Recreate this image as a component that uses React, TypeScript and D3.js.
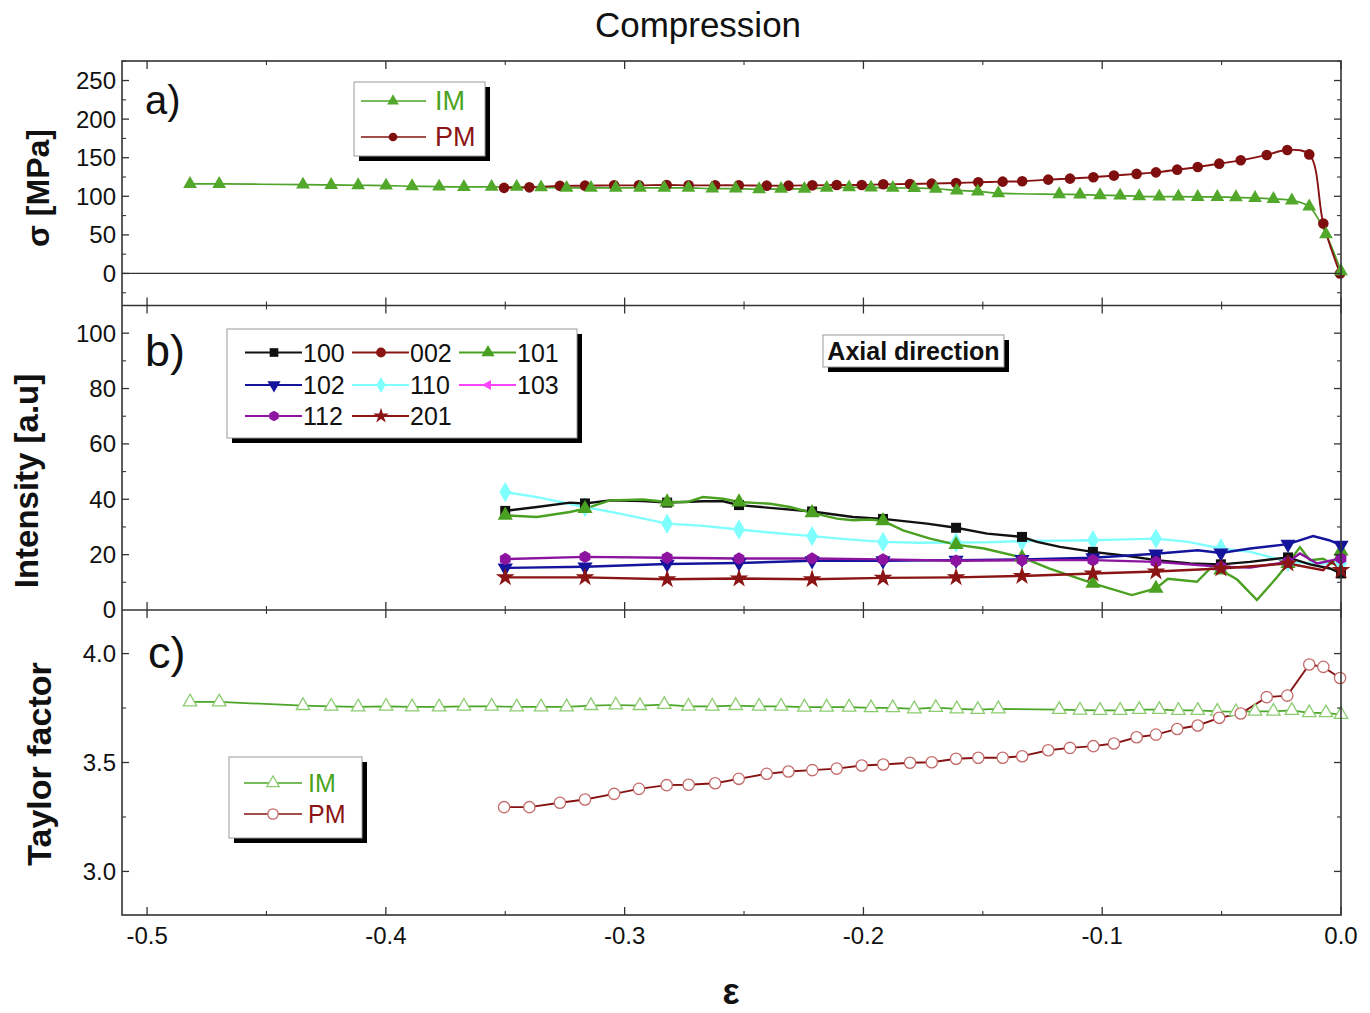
import React from 'react';
import * as d3 from 'd3';

const W = 1370, H = 1013;
const L = 122, R = 1341, T = 61, AB = 305.5, BC = 610, B = 915;
const FONT = '"Liberation Sans", Arial, sans-serif';

const xTicks = [-0.5, -0.4, -0.3, -0.2, -0.1, 0.0];
const xTickLabels = ['-0.5', '-0.4', '-0.3', '-0.2', '-0.1', '0.0'];
const xMinor = [-0.45, -0.35, -0.25, -0.15, -0.05];
const aTicks = [0, 50, 100, 150, 200, 250];
const aMinor = [-25, 25, 75, 125, 175, 225, 275];
const bTicks = [0, 20, 40, 60, 80, 100];
const bMinor = [10, 30, 50, 70, 90];
const cTicks = [3.0, 3.5, 4.0];
const cTickLabels = ['3.0', '3.5', '4.0'];
const cMinor = [2.75, 3.25, 3.75];

const imStrain = [-0.482, -0.4698, -0.4347, -0.4229, -0.4116, -0.3999, -0.389, -0.3777, -0.3673, -0.3557, -0.3452, -0.335, -0.3243, -0.3141, -0.3037, -0.2936, -0.2834, -0.2733, -0.2633, -0.2535, -0.2437, -0.2345, -0.2247, -0.2154, -0.206, -0.1968, -0.1877, -0.1787, -0.1697, -0.1609, -0.1521, -0.1435, -0.118, -0.1093, -0.1009, -0.0925, -0.0845, -0.0761, -0.0681, -0.06, -0.0518, -0.044, -0.036, -0.0283, -0.0206, -0.0133, -0.0063, 0];
const imStress = [116.0, 116.0, 115.1, 114.7, 114.3, 113.8, 113.0, 112.5, 112.1, 112.2, 112.2, 111.6, 110.9, 110.9, 110.9, 110.9, 110.9, 110.9, 110.0, 110.0, 109.1, 109.6, 109.6, 110.9, 111.6, 111.2, 110.9, 110.6, 109.8, 107.6, 106.3, 104.0, 102.6, 102.2, 101.3, 100.9, 100.0, 99.6, 99.6, 99.2, 99.2, 98.7, 97.9, 96.6, 94.5, 86.7, 50.8, 3.0];
const imTaylor = [3.778, 3.778, 3.761, 3.758, 3.755, 3.758, 3.755, 3.755, 3.758, 3.758, 3.755, 3.755, 3.755, 3.761, 3.764, 3.761, 3.766, 3.758, 3.758, 3.761, 3.758, 3.758, 3.754, 3.754, 3.754, 3.751, 3.751, 3.746, 3.752, 3.746, 3.743, 3.746, 3.743, 3.740, 3.739, 3.739, 3.743, 3.743, 3.739, 3.739, 3.735, 3.733, 3.735, 3.735, 3.739, 3.728, 3.728, 3.720];

const pmStrain = [-0.3505, -0.3399, -0.3271, -0.3166, -0.3044, -0.294, -0.2824, -0.2732, -0.2621, -0.2522, -0.2405, -0.2314, -0.2214, -0.2112, -0.2007, -0.1917, -0.1805, -0.1714, -0.1612, -0.1519, -0.1417, -0.1335, -0.1226, -0.1135, -0.1037, -0.0951, -0.0856, -0.0775, -0.0686, -0.06, -0.051, -0.042, -0.0311, -0.0225, -0.0133, -0.0074, -0.0004];
const pmStress = [110.9, 111.6, 113.5, 113.8, 114.2, 114.2, 114.7, 114.2, 114.2, 114.2, 113.8, 113.8, 114.2, 114.7, 114.7, 115.5, 116.0, 116.4, 117.3, 118.1, 119.0, 119.4, 121.6, 122.9, 124.6, 126.8, 129.0, 131.0, 134.5, 138.0, 142.3, 146.6, 153.6, 160.0, 154.3, 64.7, 0];
const pmTaylor = [3.295, 3.295, 3.315, 3.330, 3.356, 3.379, 3.396, 3.398, 3.405, 3.425, 3.448, 3.459, 3.465, 3.472, 3.486, 3.491, 3.499, 3.501, 3.517, 3.522, 3.522, 3.529, 3.556, 3.567, 3.575, 3.587, 3.616, 3.628, 3.654, 3.670, 3.705, 3.725, 3.800, 3.807, 3.950, 3.939, 3.888];

const bMarkerStrain = [-0.35, -0.3166, -0.2822, -0.2521, -0.2215, -0.1918, -0.1612, -0.1336, -0.1039, -0.0775, -0.0503, -0.0222, 0];

const i100 = [[-0.35, 35.8], [-0.3367, 37.2], [-0.3229, 38.8], [-0.3166, 38.5], [-0.3061, 39.6], [-0.2923, 39.4], [-0.2822, 38.8], [-0.2672, 39.3], [-0.2588, 39.3], [-0.2521, 37.9], [-0.2391, 36.9], [-0.2215, 35.6], [-0.2044, 33.6], [-0.1918, 32.9], [-0.1734, 31.2], [-0.1612, 29.7], [-0.1482, 27.6], [-0.1336, 26.4], [-0.1273, 24.6], [-0.1177, 22.8], [-0.1039, 21.0], [-0.0884, 19.4], [-0.0775, 18.0], [-0.0632, 16.8], [-0.0503, 16.5], [-0.0381, 17.4], [-0.0222, 19.0], [-0.013, 16.5], [-0.0046, 15.0], [0, 13.2]];
const i002: number[][] = [];
const i101 = [[-0.35, 34.2], [-0.3367, 33.6], [-0.3229, 35.4], [-0.3166, 36.6], [-0.3061, 39.6], [-0.2923, 39.9], [-0.2822, 39.0], [-0.2739, 39.0], [-0.2672, 40.8], [-0.2588, 40.2], [-0.2521, 39.0], [-0.2391, 38.4], [-0.2307, 37.2], [-0.2215, 35.1], [-0.2111, 33.0], [-0.2044, 32.4], [-0.1973, 32.7], [-0.1918, 32.2], [-0.1834, 28.8], [-0.1721, 25.8], [-0.1612, 23.6], [-0.1495, 22.2], [-0.1336, 19.0], [-0.1223, 15.0], [-0.1039, 9.6], [-0.0876, 5.4], [-0.0775, 7.8], [-0.0725, 11.3], [-0.0603, 10.2], [-0.0548, 15.0], [-0.0503, 14.4], [-0.0435, 11.0], [-0.0352, 3.6], [-0.0268, 11.8], [-0.0222, 16.8], [-0.0172, 22.7], [-0.013, 18.0], [-0.0075, 18.5], [-0.0038, 16.8], [0, 21.3]];
const i102 = [[-0.35, 15.2], [-0.3166, 15.6], [-0.2822, 16.6], [-0.2521, 17.0], [-0.2215, 17.8], [-0.1918, 17.8], [-0.1612, 18.0], [-0.1336, 18.3], [-0.1039, 18.9], [-0.0775, 20.3], [-0.06, 21.6], [-0.0503, 20.6], [-0.038, 22.2], [-0.0222, 23.8], [-0.0117, 26.7], [-0.005, 25.2], [0, 23.4]];
const i110 = [[-0.35, 42.6], [-0.3367, 40.8], [-0.3166, 37.2], [-0.302, 34.8], [-0.2822, 31.2], [-0.2672, 30.4], [-0.2521, 29.1], [-0.237, 27.8], [-0.2215, 26.7], [-0.2064, 25.5], [-0.1918, 24.6], [-0.1772, 24.3], [-0.1612, 24.4], [-0.148, 24.5], [-0.1336, 24.9], [-0.119, 25.0], [-0.1039, 25.2], [-0.09, 25.5], [-0.0775, 25.8], [-0.064, 24.6], [-0.0503, 22.2], [-0.038, 21.0], [-0.0222, 17.4], [-0.01, 16.8], [0, 16.8]];
const i103: number[][] = [];
const i112 = [[-0.35, 18.4], [-0.3166, 19.2], [-0.2822, 18.9], [-0.2521, 18.6], [-0.2215, 18.6], [-0.1918, 18.3], [-0.1612, 17.8], [-0.1336, 18.0], [-0.1039, 18.0], [-0.0775, 17.4], [-0.0503, 15.6], [-0.038, 15.3], [-0.0222, 17.4], [-0.0172, 20.4], [-0.01, 16.8], [-0.0034, 18.0], [0, 18.6]];
const i201 = [[-0.35, 11.8], [-0.3166, 11.8], [-0.2822, 11.1], [-0.2521, 11.4], [-0.2215, 11.1], [-0.1918, 11.6], [-0.1612, 11.8], [-0.1336, 12.3], [-0.1039, 13.2], [-0.0775, 13.9], [-0.0503, 15.0], [-0.0222, 16.8], [-0.0075, 14.4], [-0.0038, 17.4], [0, 14.4]];

const bSeries = [
  { name: '100', data: i100, color: '#111111', marker: 'square' },
  { name: '002', data: i002, color: '#8b1414', marker: 'circle' },
  { name: '101', data: i101, color: '#4aa020', marker: 'triUp' },
  { name: '102', data: i102, color: '#14149c', marker: 'triDown' },
  { name: '110', data: i110, color: '#80ffff', marker: 'diamond' },
  { name: '103', data: i103, color: '#ff44ff', marker: 'triLeft' },
  { name: '112', data: i112, color: '#8c14a0', marker: 'hexagon' },
  { name: '201', data: i201, color: '#8b1414', marker: 'star' },
];
const bDrawOrder = ['110', '100', '101', '102', '112', '201'];

const x = d3.scaleLinear().domain([-0.5105, 0]).range([L, R]);
const ya = d3.scaleLinear().domain([-41.5, 275.3]).range([AB, T]);
const yb = d3.scaleLinear().domain([0, 110]).range([BC, AB]);
const yc = d3.scaleLinear().domain([2.8, 4.2]).range([B, BC]);

function markerPath(type: string, size: number): { d: string; rot: number } {
  switch (type) {
    case 'square': return { d: d3.symbol(d3.symbolSquare, size)() as string, rot: 0 };
    case 'circle': return { d: d3.symbol(d3.symbolCircle, size)() as string, rot: 0 };
    case 'triUp': return { d: d3.symbol(d3.symbolTriangle, size)() as string, rot: 0 };
    case 'triDown': return { d: d3.symbol(d3.symbolTriangle, size)() as string, rot: 180 };
    case 'triLeft': return { d: d3.symbol(d3.symbolTriangle, size)() as string, rot: -90 };
    case 'diamond': return { d: d3.symbol(d3.symbolDiamond, size)() as string, rot: 0 };
    case 'star': return { d: d3.symbol(d3.symbolStar, size)() as string, rot: 0 };
    case 'hexagon': {
      const r = Math.sqrt(size / 2.598);
      const pts = d3.range(6).map(i => {
        const a = Math.PI / 6 + (i * Math.PI) / 3;
        return [r * Math.cos(a), r * Math.sin(a)];
      });
      return { d: 'M' + pts.map(p => p.join(',')).join('L') + 'Z', rot: 0 };
    }
  }
  return { d: '', rot: 0 };
}

function Mk({ type, cx, cy, size, fill, stroke, sw = 0 }: any) {
  const { d, rot } = markerPath(type, size);
  return <path d={d} transform={`translate(${cx},${cy}) rotate(${rot})`} fill={fill} stroke={stroke || 'none'} strokeWidth={sw} />;
}

function Frame() {
  const els: any[] = [];
  const edges = [
    { y: T, dirs: [1] },
    { y: AB, dirs: [-1, 1] },
    { y: BC, dirs: [-1, 1] },
    { y: B, dirs: [-1] },
  ];
  edges.forEach((e, ei) => {
    e.dirs.forEach((dir, di) => {
      xTicks.forEach((t, i) => els.push(<line key={`xm${ei}${di}${i}`} x1={x(t)} x2={x(t)} y1={e.y} y2={e.y + dir * 8} stroke="#333" strokeWidth={1.3} />));
      xMinor.forEach((t, i) => els.push(<line key={`xn${ei}${di}${i}`} x1={x(t)} x2={x(t)} y1={e.y} y2={e.y + dir * 4} stroke="#333" strokeWidth={1.1} />));
    });
  });
  const yAxes = [
    { s: ya, maj: aTicks, min: aMinor },
    { s: yb, maj: bTicks, min: bMinor },
    { s: yc, maj: cTicks, min: cMinor },
  ];
  yAxes.forEach((ax, ai) => {
    const [d0, d1] = ax.s.domain();
    const inside = (v: number) => v > Math.min(d0, d1) + 1e-9 && v < Math.max(d0, d1) - 1e-9;
    [[L, 1], [R, -1]].forEach(([xx, dir], si) => {
      ax.maj.filter(inside).forEach((t, i) => els.push(<line key={`ym${ai}${si}${i}`} x1={xx} x2={xx + dir * 7} y1={ax.s(t)} y2={ax.s(t)} stroke="#333" strokeWidth={1.3} />));
      ax.min.filter(inside).forEach((t, i) => els.push(<line key={`yn${ai}${si}${i}`} x1={xx} x2={xx + dir * 4} y1={ax.s(t)} y2={ax.s(t)} stroke="#333" strokeWidth={1.1} />));
    });
  });
  return (
    <g>
      <rect x={L} y={T} width={R - L} height={B - T} fill="none" stroke="#333" strokeWidth={1.6} />
      <line x1={L} x2={R} y1={AB} y2={AB} stroke="#333" strokeWidth={1.6} />
      <line x1={L} x2={R} y1={BC} y2={BC} stroke="#333" strokeWidth={1.6} />
      {els}
    </g>
  );
}

function LegendBox({ x0, y0, w, h }: any) {
  return (
    <g>
      <rect x={x0 + 5} y={y0 + 5} width={w} height={h} fill="#000" />
      <rect x={x0} y={y0} width={w} height={h} fill="#fff" stroke="#9a9a9a" strokeWidth={1} />
    </g>
  );
}

export default function App() {
  const lineA = d3.line<number>().x((_, i) => x(imStrain[i])).y(d => ya(d)).curve(d3.curveCatmullRom.alpha(0.5));
  const lineAPM = d3.line<number>().x((_, i) => x(pmStrain[i])).y(d => ya(d)).curve(d3.curveCatmullRom.alpha(0.5));
  const lineCIM = d3.line<number>().x((_, i) => x(imStrain[i])).y(d => yc(d));
  const lineCPM = d3.line<number>().x((_, i) => x(pmStrain[i])).y(d => yc(d));
  const lineB = d3.line<number[]>().x(d => x(d[0])).y(d => yb(d[1]));

  const imGreen = '#4ea32a';
  const pmRed = '#861212';

  const tickText = { fontFamily: FONT, fontSize: 24, fill: '#111' } as any;

  return (
    <svg width={W} height={H} style={{ position: 'absolute', left: 0, top: 0, background: '#fff' }} xmlns="http://www.w3.org/2000/svg">
      <rect x={0} y={0} width={W} height={H} fill="#fff" />
      <text x={698} y={37} textAnchor="middle" fontFamily={FONT} fontSize={35} fill="#111">Compression</text>

      {/* Panel a */}
      <line x1={L} x2={R} y1={ya(0)} y2={ya(0)} stroke="#333" strokeWidth={1.3} />
      <path d={lineA(imStress) as string} fill="none" stroke={imGreen} strokeWidth={1.7} />
      <path d={lineAPM(pmStress) as string} fill="none" stroke={pmRed} strokeWidth={1.9} />
      {pmStress.map((v, i) => <Mk key={`pa${i}`} type="circle" cx={x(pmStrain[i])} cy={ya(v)} size={88} fill="#7f0f0f" />)}
      {imStress.map((v, i) => <Mk key={`ia${i}`} type="triUp" cx={x(imStrain[i])} cy={ya(v)} size={82} fill="#52a82a" />)}

      {/* Panel b */}
      {bDrawOrder.map(n => {
        const s = bSeries.find(z => z.name === n)!;
        return <path key={`bl${n}`} d={lineB(s.data) as string} fill="none" stroke={s.color} strokeWidth={2.4} />;
      })}
      {bDrawOrder.map(n => {
        const s = bSeries.find(z => z.name === n)!;
        return s.data.filter(p => bMarkerStrain.some(m => Math.abs(m - p[0]) < 1e-6)).map((p, i) => (
          <Mk key={`bm${n}${i}`} type={s.marker} cx={x(p[0])} cy={yb(p[1])} size={s.marker === 'star' ? 110 : s.marker === 'diamond' ? 120 : 100} fill={s.color} />
        ));
      })}

      {/* Panel c */}
      <path d={lineCIM(imTaylor) as string} fill="none" stroke="#4aa626" strokeWidth={1.7} />
      <path d={lineCPM(pmTaylor) as string} fill="none" stroke={pmRed} strokeWidth={1.9} />
      {imTaylor.map((v, i) => <Mk key={`ic${i}`} type="triUp" cx={x(imStrain[i])} cy={yc(v)} size={78} fill="#fff" stroke="#8ccc70" sw={1.3} />)}
      {pmTaylor.map((v, i) => <Mk key={`pc${i}`} type="circle" cx={x(pmStrain[i])} cy={yc(v)} size={100} fill="#fff" stroke="#c46a6a" sw={1.3} />)}

      <Frame />

      {/* tick labels */}
      {xTicks.map((t, i) => <text key={`xl${i}`} x={x(t)} y={944} textAnchor="middle" {...tickText}>{xTickLabels[i]}</text>)}
      {aTicks.map((t, i) => <text key={`al${i}`} x={L - 6} y={ya(t)} dy="0.35em" textAnchor="end" {...tickText}>{t}</text>)}
      {bTicks.map((t, i) => <text key={`bl${i}`} x={L - 6} y={yb(t)} dy="0.35em" textAnchor="end" {...tickText}>{t}</text>)}
      {cTicks.map((t, i) => <text key={`cl${i}`} x={L - 6} y={yc(t)} dy="0.35em" textAnchor="end" {...tickText}>{cTickLabels[i]}</text>)}

      {/* axis titles */}
      <text transform="translate(49,188) rotate(-90)" textAnchor="middle" fontFamily={FONT} fontWeight="bold" fontSize={32} fill="#111">σ [MPa]</text>
      <text transform="translate(38,481) rotate(-90)" textAnchor="middle" fontFamily={FONT} fontWeight="bold" fontSize={33} fill="#111">Intensity [a.u]</text>
      <text transform="translate(51,764) rotate(-90)" textAnchor="middle" fontFamily={FONT} fontWeight="bold" fontSize={34} fill="#111">Taylor factor</text>
      <text x={731} y={1004} textAnchor="middle" fontFamily={FONT} fontWeight="bold" fontSize={36} fill="#111">ε</text>

      {/* panel labels */}
      <text x={145} y={114} fontFamily={FONT} fontSize={40} fill="#111">a)</text>
      <text x={145} y={366} fontFamily={FONT} fontSize={45} fill="#111">b)</text>
      <text x={148} y={668} fontFamily={FONT} fontSize={45} fill="#111">c)</text>

      {/* legend a */}
      <LegendBox x0={354} y0={82} w={131} h={74} />
      <line x1={361} x2={426} y1={101} y2={101} stroke={imGreen} strokeWidth={1.6} />
      <Mk type="triUp" cx={393} cy={101} size={60} fill="#52a82a" />
      <text x={435} y={101} dy="0.35em" fontFamily={FONT} fontSize={27} fill="#4aa320">IM</text>
      <line x1={361} x2={426} y1={137} y2={137} stroke={pmRed} strokeWidth={1.6} />
      <Mk type="circle" cx={393} cy={137} size={60} fill="#7f0f0f" />
      <text x={435} y={137} dy="0.35em" fontFamily={FONT} fontSize={27} fill="#8b1414">PM</text>

      {/* legend b */}
      <LegendBox x0={227} y0={329} w={350} h={109} />
      {bSeries.map((s, i) => {
        const col = i % 3, row = Math.floor(i / 3);
        const lx = [245, 352, 459][col];
        const ly = [352.5, 385, 416][row];
        return (
          <g key={`lg${s.name}`}>
            <line x1={lx} x2={lx + 57} y1={ly} y2={ly} stroke={s.color} strokeWidth={2.2} />
            <Mk type={s.marker} cx={lx + 29} cy={ly} size={s.marker === 'triLeft' ? 45 : 75} fill={s.color} />
            <text x={lx + 58} y={ly} dy="0.36em" fontFamily={FONT} fontSize={25} fill="#111">{s.name}</text>
          </g>
        );
      })}

      {/* Axial direction */}
      <LegendBox x0={823} y0={335} w={181} h={32} />
      <text x={913.5} y={351} dy="0.36em" textAnchor="middle" fontFamily={FONT} fontWeight="bold" fontSize={25} fill="#111">Axial direction</text>

      {/* legend c */}
      <LegendBox x0={229} y0={757} w={133} h={81} />
      <line x1={244} x2={302} y1={783} y2={783} stroke="#4aa626" strokeWidth={1.6} />
      <Mk type="triUp" cx={273} cy={783} size={65} fill="#fff" stroke="#8ccc70" sw={1.3} />
      <text x={308} y={783} dy="0.36em" fontFamily={FONT} fontSize={25} fill="#4aa320">IM</text>
      <line x1={244} x2={302} y1={814} y2={814} stroke={pmRed} strokeWidth={1.6} />
      <Mk type="circle" cx={273} cy={814} size={85} fill="#fff" stroke="#c46a6a" sw={1.3} />
      <text x={308} y={814} dy="0.36em" fontFamily={FONT} fontSize={25} fill="#8b1414">PM</text>
    </svg>
  );
}
